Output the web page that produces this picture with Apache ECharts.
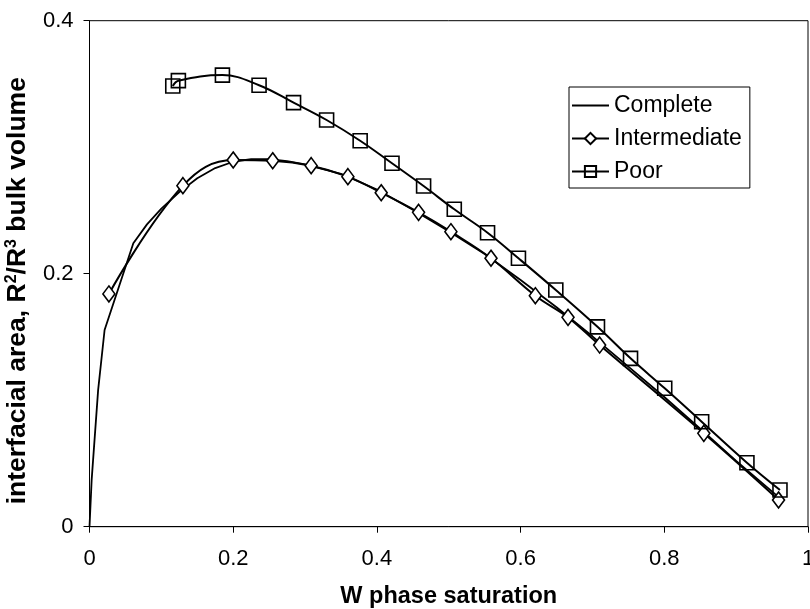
<!DOCTYPE html>
<html>
<head>
<meta charset="utf-8">
<script src="https://cdn.jsdelivr.net/npm/echarts@6/dist/echarts.min.js"></script>
<style>
html,body{margin:0;padding:0;background:#fff;}
#chart{width:810px;height:609px;}
</style>
</head>
<body>
<div id="chart"></div>
<script>
// Data
const completeX = [0, 0.003, 0.012, 0.021, 0.061, 0.08, 0.1, 0.125, 0.15, 0.175, 0.2, 0.225, 0.25, 0.275, 0.3, 0.35, 0.4, 0.45, 0.5, 0.55, 0.6, 0.65, 0.7, 0.75, 0.8, 0.85, 0.9, 0.96];
const completeY = [0, 0.037, 0.108, 0.1555, 0.224, 0.239, 0.2515, 0.2645, 0.2755, 0.2835, 0.2885, 0.2905, 0.2905, 0.289, 0.2865, 0.279, 0.2665, 0.2505, 0.2335, 0.2155, 0.195, 0.1735, 0.1505, 0.1265, 0.1025, 0.0775, 0.052, 0.023];

const interX = [0.027, 0.130, 0.200, 0.255, 0.3085, 0.3596, 0.406, 0.458, 0.503, 0.5588, 0.6205, 0.666, 0.710, 0.855, 0.959];
const interY = [0.184, 0.2696, 0.2899, 0.2893, 0.2854, 0.2767, 0.264, 0.2485, 0.2332, 0.2122, 0.1826, 0.1655, 0.1436, 0.0738, 0.0211];

const poorX = [0.1159, 0.1237, 0.185, 0.236, 0.284, 0.330, 0.3767, 0.421, 0.465, 0.5077, 0.554, 0.597, 0.649, 0.707, 0.753, 0.8006, 0.852, 0.915, 0.961];
const poorY = [0.3484, 0.3526, 0.357, 0.349, 0.3352, 0.3215, 0.3051, 0.2873, 0.2693, 0.2509, 0.2324, 0.2122, 0.1871, 0.158, 0.1331, 0.1094, 0.083, 0.0506, 0.029];

const xTicks = [0, 0.2, 0.4, 0.6, 0.8, 1];
const yTicks = [0, 0.2, 0.4];

const zip = (xs, ys) => xs.map((x, i) => [x, ys[i]]);
const FONT = "'Liberation Sans', Arial, sans-serif";

const chart = echarts.init(document.getElementById('chart'), null, {renderer: 'canvas'});
chart.setOption({
  animation: false,
  backgroundColor: '#fff',
  grid: {left: 89.5, right: 2, top: 20.7, bottom: 82.3, show: true, borderColor: '#000', borderWidth: 1,
    containLabel: false, outerBoundsMode: 'none'},
  legend: {
    orient: 'vertical',
    left: 569, top: 87,
    padding: [7, 8, 5, 2],
    itemGap: 10,
    itemWidth: 37,
    itemHeight: 14,
    borderColor: '#000',
    borderWidth: 1,
    backgroundColor: '#fff',
    textStyle: {fontFamily: FONT, fontSize: 23, color: '#000', lineHeight: 23},
    data: [
      {name: 'Complete', itemStyle: {color: 'rgba(0,0,0,0)', borderColor: 'rgba(0,0,0,0)', borderWidth: 0}},
      {name: 'Intermediate'},
      {name: 'Poor'}
    ]
  },
  xAxis: {
    type: 'value', min: xTicks[0], max: xTicks[xTicks.length - 1], interval: 0.2,
    name: 'W phase saturation', nameLocation: 'middle', nameGap: 58,
    nameTextStyle: {fontFamily: FONT, fontSize: 23.5, fontWeight: 'bold', color: '#000'},
    axisLine: {lineStyle: {color: '#000', width: 1}},
    axisTick: {show: true, length: 6, lineStyle: {color: '#000'}},
    axisLabel: {fontFamily: FONT, fontSize: 22, color: '#000', margin: 21,
      formatter: v => (xTicks.includes(+v.toFixed(1)) ? String(+v.toFixed(1)) : '')},
    splitLine: {show: false}
  },
  yAxis: {
    type: 'value', min: yTicks[0], max: yTicks[yTicks.length - 1], interval: 0.2,
    name: 'interfacial area, R{sup|2}/R{sup|3} bulk volume', nameLocation: 'middle', nameGap: 50,
    nameTextStyle: {
      fontFamily: FONT, fontSize: 26.5, fontWeight: 'bold', color: '#000', lineHeight: 28,
      padding: [0, 34, 0, 0],
      rich: {sup: {fontFamily: FONT, fontSize: 16, fontWeight: 'bold', color: '#000', verticalAlign: 'top', lineHeight: 28}}
    },
    axisLine: {show: true, lineStyle: {color: '#000', width: 1}},
    axisTick: {show: true, length: 6, lineStyle: {color: '#000'}},
    axisLabel: {fontFamily: FONT, fontSize: 22, color: '#000', margin: 16,
      formatter: v => String(+v.toFixed(1))},
    splitLine: {show: false}
  },
  series: [
    {
      name: 'Complete', type: 'line', data: zip(completeX, completeY),
      symbol: 'none', smooth: false,
      lineStyle: {color: '#000', width: 1.8},
      itemStyle: {color: '#000'}
    },
    {
      name: 'Intermediate', type: 'line', data: zip(interX, interY),
      symbol: 'diamond', symbolSize: [12, 16], smooth: 0.4,
      lineStyle: {color: '#000', width: 2},
      itemStyle: {color: '#fff', borderColor: '#000', borderWidth: 1.6}
    },
    {
      name: 'Poor', type: 'line', data: zip(poorX, poorY),
      symbol: 'rect', symbolSize: 14, smooth: 0.4,
      lineStyle: {color: '#000', width: 2},
      itemStyle: {color: 'rgba(255,255,255,0)', borderColor: '#000', borderWidth: 1.6}
    }
  ]
});
</script>
</body>
</html>
